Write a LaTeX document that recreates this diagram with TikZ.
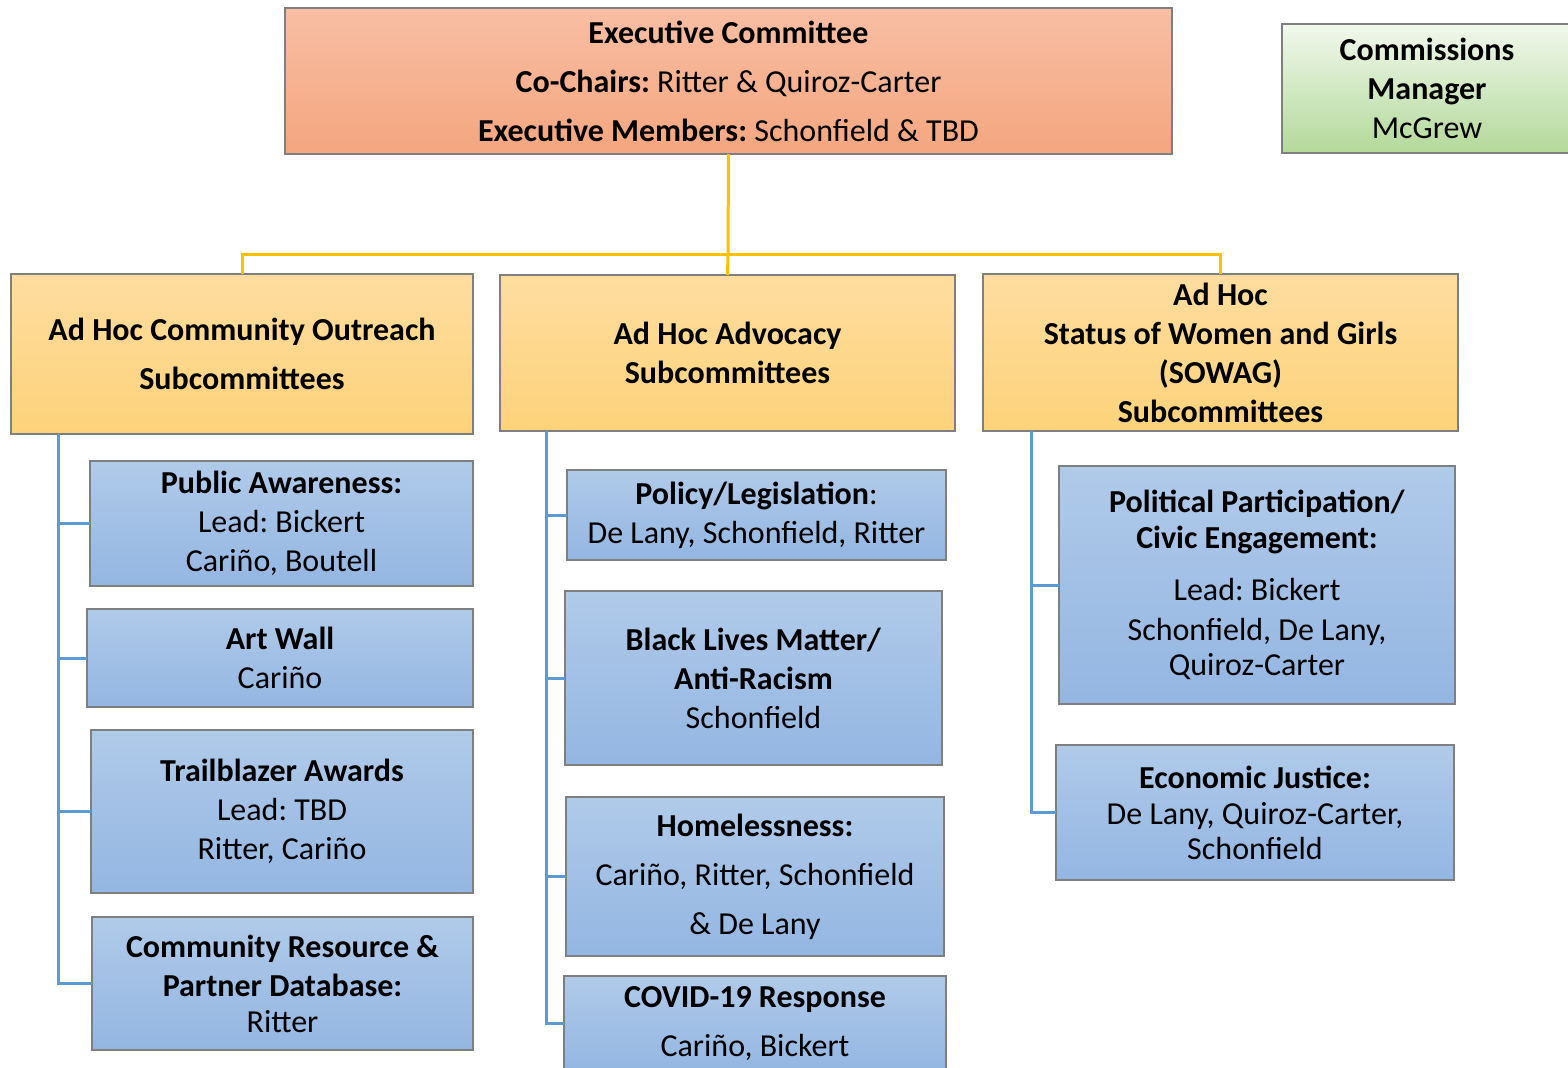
\documentclass[tikz,border=0pt]{standalone}
\usepackage{fontspec}
\setmainfont{Carlito}
\frenchspacing
\definecolor{exectop}{HTML}{F8BEA3}
\definecolor{execbot}{HTML}{F4A67F}
\definecolor{greentop}{HTML}{F1F8EC}
\definecolor{greenbot}{HTML}{B3D99A}
\definecolor{yeltop}{HTML}{FEDD9F}
\definecolor{yelbot}{HTML}{FDD27A}
\definecolor{bluetop}{HTML}{B0CAE9}
\definecolor{bluebot}{HTML}{93B6E2}
\definecolor{boxline}{HTML}{7F7F7F}
\definecolor{yline}{HTML}{FFC000}
\definecolor{bline}{HTML}{5B9BD5}
\tikzset{
  basebox/.style={draw=boxline, line width=0.7pt, inner sep=0pt, outer sep=0pt,
    align=center, font=\fontsize{16pt}{19.5pt}\selectfont},
  execbox/.style={basebox, top color=exectop, bottom color=execbot},
  greenbox/.style={basebox, top color=greentop, bottom color=greenbot},
  yelbox/.style={basebox, top color=yeltop, bottom color=yelbot},
  bluebox/.style={basebox, top color=bluetop, bottom color=bluebot},
  yconn/.style={draw=yline, line width=1.5pt},
  bconn/.style={draw=bline, line width=1.5pt},
}
\begin{document}
\begin{tikzpicture}[x=0.5pt,y=-0.5pt]
\useasboundingbox (0,0) rectangle (1568,1067);

% top level
\node[execbox, minimum width=443.5pt, minimum height=73pt] (exec) at (728.5,81)
  {\textbf{Executive Committee}\\[5pt]
   \textbf{Co-Chairs:} Ritter \& Quiroz-Carter\\[5pt]
   \textbf{Executive Members:} Schonfield \& TBD};
\node[greenbox, minimum width=145pt, minimum height=64.5pt] (comm) at (1427,88.5)
  {\textbf{Commissions}\\\textbf{Manager}\\McGrew};

% second level
\node[yelbox, minimum width=231pt, minimum height=80pt] (outreach) at (242,354)
  {\textbf{Ad Hoc Community Outreach}\\[5pt]\textbf{Subcommittees}};
\node[yelbox, minimum width=227.5pt, minimum height=78pt] (advocacy) at (727.5,353)
  {\textbf{Ad Hoc Advocacy}\\\textbf{Subcommittees}};
\node[yelbox, minimum width=237.5pt, minimum height=78.5pt] (sowag) at (1220.5,352.5)
  {\textbf{Ad Hoc}\\\textbf{Status of Women and Girls}\\\textbf{(SOWAG)}\\\textbf{Subcommittees}};

% left column
\node[bluebox, minimum width=191.5pt, minimum height=62.5pt] (pa) at (281.5,523.5)
  {\textbf{Public Awareness:}\\Lead: Bickert\\Cariño, Boutell};
\node[bluebox, minimum width=193pt, minimum height=49pt] (aw) at (280,658)
  {\textbf{Art Wall}\\Cariño};
\node[bluebox, minimum width=191pt, minimum height=81.5pt] (tb) at (282,811.5)
  {\textbf{Trailblazer Awards}\\Lead: TBD\\Ritter, Cariño};
\node[bluebox, minimum width=190.5pt, minimum height=66.5pt] (cr) at (282.5,983.5)
  {\textbf{Community Resource \&}\\\textbf{Partner Database:}\\[-1.5pt]Ritter};

% middle column
\node[bluebox, minimum width=189.5pt, minimum height=45pt] (pl) at (756.5,515)
  {\textbf{Policy/Legislation}:\\De Lany, Schonfield, Ritter};
\node[bluebox, minimum width=188.5pt, minimum height=87pt] (blm) at (753.5,678)
  {\textbf{Black Lives Matter/}\\\textbf{Anti-Racism}\\Schonfield};
\node[bluebox, minimum width=189pt, minimum height=79.5pt] (hl) at (755,876.5)
  {\textbf{Homelessness:}\\[5pt]Cariño, Ritter, Schonfield\\[5pt]\& De Lany};
\node[bluebox, minimum width=191pt, minimum height=47.5pt] (cv) at (755,1023.5)
  {\textbf{COVID-19 Response}\\[5pt]Cariño, Bickert};

% right column
\node[bluebox, minimum width=198pt, minimum height=119pt] (pp) at (1257,585)
  {\textbf{Political Participation/}\\[-1.5pt]\textbf{Civic Engagement:}\\[6.5pt]Lead: Bickert\\[0.5pt]Schonfield, De Lany,\\[-2pt]Quiroz-Carter};
\node[bluebox, minimum width=199pt, minimum height=67.5pt] (ej) at (1255,812.5)
  {\textbf{Economic Justice:}\\[-1.5pt]De Lany, Quiroz-Carter,\\[-2pt]Schonfield};

% yellow connectors
\coordinate (yj) at (728,254);
\draw[yconn] (exec.south) -- (yj);
\draw[yconn] (outreach.north) |- (yj) -| (sowag.north);
\draw[yconn] (yj) -- (advocacy.north);

% blue connectors
\coordinate (ta) at (58,434);
\coordinate (tb0) at (546,431);
\coordinate (tc) at (1031,431);
\draw[bconn] (ta) |- (pa.west);
\draw[bconn] (ta) |- (aw.west);
\draw[bconn] (ta) |- (tb.west);
\draw[bconn] (ta) |- (cr.west);
\draw[bconn] (tb0) |- (pl.west);
\draw[bconn] (tb0) |- (blm.west);
\draw[bconn] (tb0) |- (hl.west);
\draw[bconn] (tb0) |- (cv.west);
\draw[bconn] (tc) |- (pp.west);
\draw[bconn] (tc) |- (ej.west);
\end{tikzpicture}
\end{document}
